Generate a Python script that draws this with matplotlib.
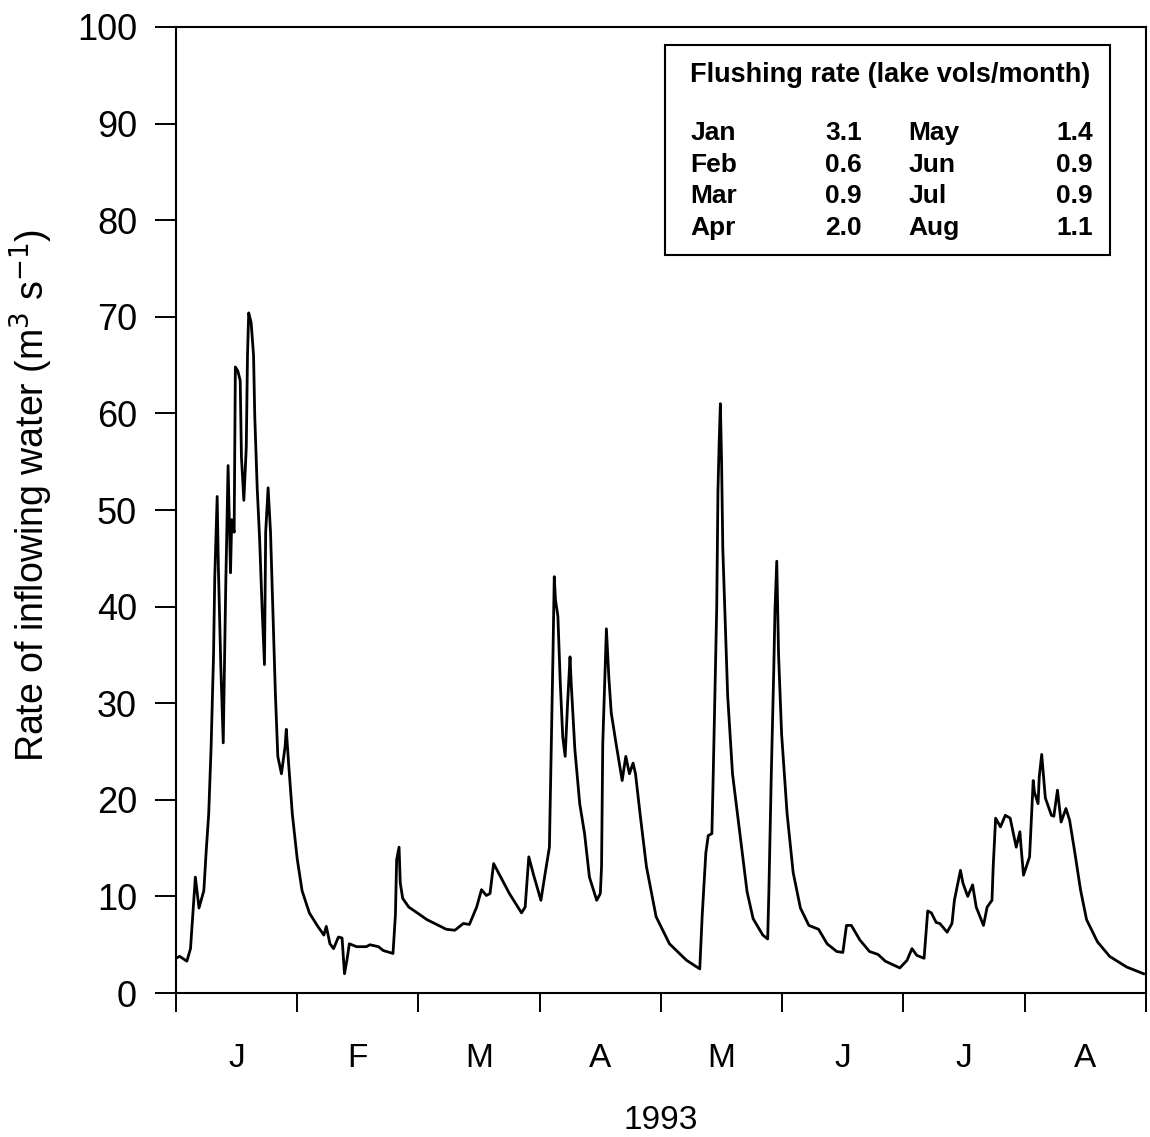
import matplotlib
matplotlib.use('Agg')
import matplotlib.pyplot as plt
from matplotlib.patches import Rectangle

plt.rcParams['font.family'] = ['Liberation Sans', 'DejaVu Sans']

# time in months from 1 Jan 1993 (0 = 1 Jan, 8 = end of Aug)
months = [0.00, 0.03, 0.09, 0.12, 0.14, 0.16, 0.19, 0.23, 0.25, 0.27, 0.29, 0.31, 0.32, 0.34, 0.35,
          0.37, 0.39, 0.41, 0.43, 0.45, 0.46, 0.48, 0.49, 0.51, 0.53, 0.54, 0.56, 0.58, 0.59, 0.60,
          0.62, 0.64, 0.65, 0.67, 0.69, 0.71, 0.73, 0.74, 0.76, 0.78, 0.80, 0.82, 0.84, 0.87, 0.90,
          0.91, 0.93, 0.96, 1.00, 1.04, 1.10, 1.17, 1.22, 1.24, 1.27, 1.30, 1.34, 1.37, 1.39, 1.41,
          1.43, 1.49, 1.57, 1.60, 1.67, 1.71, 1.79, 1.81, 1.82, 1.84, 1.85, 1.87, 1.92, 1.99, 2.07,
          2.15, 2.23, 2.30, 2.37, 2.42, 2.48, 2.52, 2.56, 2.59, 2.62, 2.67, 2.75, 2.85, 2.88, 2.91,
          2.95, 3.01, 3.04, 3.08, 3.09, 3.10, 3.11, 3.12, 3.13, 3.15, 3.17, 3.19, 3.21, 3.23, 3.25,
          3.26, 3.29, 3.33, 3.37, 3.41, 3.47, 3.50, 3.51, 3.52, 3.54, 3.55, 3.57, 3.59, 3.63, 3.68,
          3.71, 3.74, 3.77, 3.79, 3.83, 3.88, 3.96, 4.07, 4.21, 4.32, 4.34, 4.37, 4.39, 4.42, 4.43,
          4.46, 4.47, 4.48, 4.49, 4.50, 4.51, 4.55, 4.59, 4.65, 4.71, 4.76, 4.84, 4.88, 4.89, 4.91,
          4.93, 4.94, 4.955, 4.97, 4.995, 5.04, 5.09, 5.15, 5.22, 5.30, 5.37, 5.45, 5.50, 5.53, 5.57,
          5.64, 5.72, 5.79, 5.85, 5.97, 6.03, 6.07, 6.11, 6.17, 6.20, 6.23, 6.27, 6.30, 6.36, 6.40,
          6.42, 6.47, 6.49, 6.53, 6.57, 6.60, 6.66, 6.69, 6.73, 6.74, 6.76, 6.80, 6.84, 6.88, 6.93,
          6.96, 6.97, 6.99, 7.04, 7.07, 7.08, 7.11, 7.12, 7.14, 7.17, 7.22, 7.24, 7.27, 7.30, 7.34,
          7.37, 7.41, 7.46, 7.51, 7.60, 7.70, 7.84, 7.98]

# inflow rate (m3/s)
inflow = [3.6, 3.8, 3.3, 4.6, 8.3, 12.0, 8.8, 10.6, 14.8, 18.5, 25.5, 35.0, 43.0, 51.4, 44.0,
          33.8, 25.9, 41.7, 54.6, 43.5, 49.0, 47.7, 64.8, 64.4, 63.4, 55.5, 51.0, 56.5, 66.0, 70.4,
          69.4, 66.0, 59.7, 52.3, 47.0, 40.0, 34.0, 47.7, 52.3, 47.7, 39.4, 31.0, 24.5, 22.7, 25.5,
          27.3, 23.6, 18.5, 13.9, 10.6, 8.3, 6.9, 6.0, 6.9, 5.1, 4.6, 5.8, 5.7, 2.0, 3.4,
          5.1, 4.8, 4.8, 5.0, 4.8, 4.4, 4.1, 8.1, 13.8, 15.1, 11.4, 9.8, 8.9, 8.3, 7.6,
          7.1, 6.6, 6.5, 7.2, 7.1, 8.9, 10.7, 10.1, 10.3, 13.4, 12.2, 10.3, 8.3, 8.9, 14.1,
          12.2, 9.6, 12.0, 15.1, 21.7, 28.6, 35.5, 43.1, 40.7, 39.0, 32.0, 26.5, 24.5, 30.0, 34.8,
          32.0, 25.2, 19.6, 16.5, 12.0, 9.6, 10.3, 13.1, 25.8, 33.8, 37.7, 32.7, 29.0, 25.8, 22.0,
          24.5, 22.7, 23.8, 22.7, 18.3, 13.1, 7.9, 5.1, 3.4, 2.5, 8.0, 14.5, 16.3, 16.5, 22.0,
          40.0, 52.0, 57.0, 61.0, 55.0, 46.0, 30.8, 22.7, 16.6, 10.5, 7.7, 6.0, 5.6, 10.5, 22.7,
          33.3, 39.5, 44.7, 35.0, 26.8, 18.6, 12.5, 8.8, 7.0, 6.6, 5.1, 4.3, 4.2, 7.0, 7.0,
          5.5, 4.3, 4.0, 3.3, 2.6, 3.4, 4.6, 3.9, 3.6, 8.5, 8.3, 7.3, 7.2, 6.3, 7.2,
          9.6, 12.7, 11.4, 10.0, 11.2, 8.9, 7.0, 8.9, 9.6, 13.1, 18.1, 17.2, 18.4, 18.1, 15.1,
          16.7, 15.1, 12.2, 14.1, 22.0, 20.8, 19.6, 22.4, 24.7, 20.2, 18.4, 18.3, 21.0, 17.7, 19.1,
          17.9, 14.8, 10.7, 7.6, 5.3, 3.8, 2.7, 2.0]

month_labels = ['J', 'F', 'M', 'A', 'M', 'J', 'J', 'A']

# flushing rate table
flush_left = [('Jan', '3.1'), ('Feb', '0.6'), ('Mar', '0.9'), ('Apr', '2.0')]
flush_right = [('May', '1.4'), ('Jun', '0.9'), ('Jul', '0.9'), ('Aug', '1.1')]

fig = plt.figure(figsize=(11.5, 11.37), dpi=100)
ax = fig.add_axes([0.153, 0.1266, 0.8435, 0.8497])

ax.plot(months, inflow, color='black', lw=2.0)

ax.set_xlim(0, 8)
ax.set_ylim(0, 100)
ax.set_yticks(range(0, 101, 10))
ax.set_xticks(range(0, 9))
ax.set_xticklabels([])
ax.set_xticks([i + 0.5 for i in range(8)], minor=True)
ax.set_xticklabels(month_labels, minor=True)

ax.tick_params(axis='y', direction='out', length=15, width=1.4, pad=13, labelsize=26)
ax.tick_params(axis='x', which='major', direction='out', length=14, width=1.4)
ax.tick_params(axis='x', which='minor', length=0, pad=36, labelsize=24)
for s in ax.spines.values():
    s.set_linewidth(1.5)

ax.set_xlabel('1993', fontsize=24, labelpad=22)
ax.set_ylabel('Rate of inflowing water (m$^3$ s$^{-1}$)', fontsize=27, labelpad=16,
              family=['Liberation Sans Narrow', 'Liberation Sans'])
ax.yaxis.label.set_y(0.515)

# inset table of flushing rates
ax.add_patch(Rectangle((0.504, 0.764), 0.459, 0.217, transform=ax.transAxes,
                       fill=False, edgecolor='black', lw=1.5))
ax.text(0.530, 0.950, 'Flushing rate (lake vols/month)', transform=ax.transAxes,
        fontsize=19.5, fontweight='bold', va='center', ha='left')
row_y = [0.890, 0.857, 0.825, 0.792]
for (m1, v1), (m2, v2), yy in zip(flush_left, flush_right, row_y):
    ax.text(0.530, yy, m1, transform=ax.transAxes, fontsize=19, fontweight='bold', va='center')
    ax.text(0.707, yy, v1, transform=ax.transAxes, fontsize=19, fontweight='bold', va='center', ha='right')
    ax.text(0.755, yy, m2, transform=ax.transAxes, fontsize=19, fontweight='bold', va='center')
    ax.text(0.945, yy, v2, transform=ax.transAxes, fontsize=19, fontweight='bold', va='center', ha='right')

plt.savefig('out.png', dpi=100)
